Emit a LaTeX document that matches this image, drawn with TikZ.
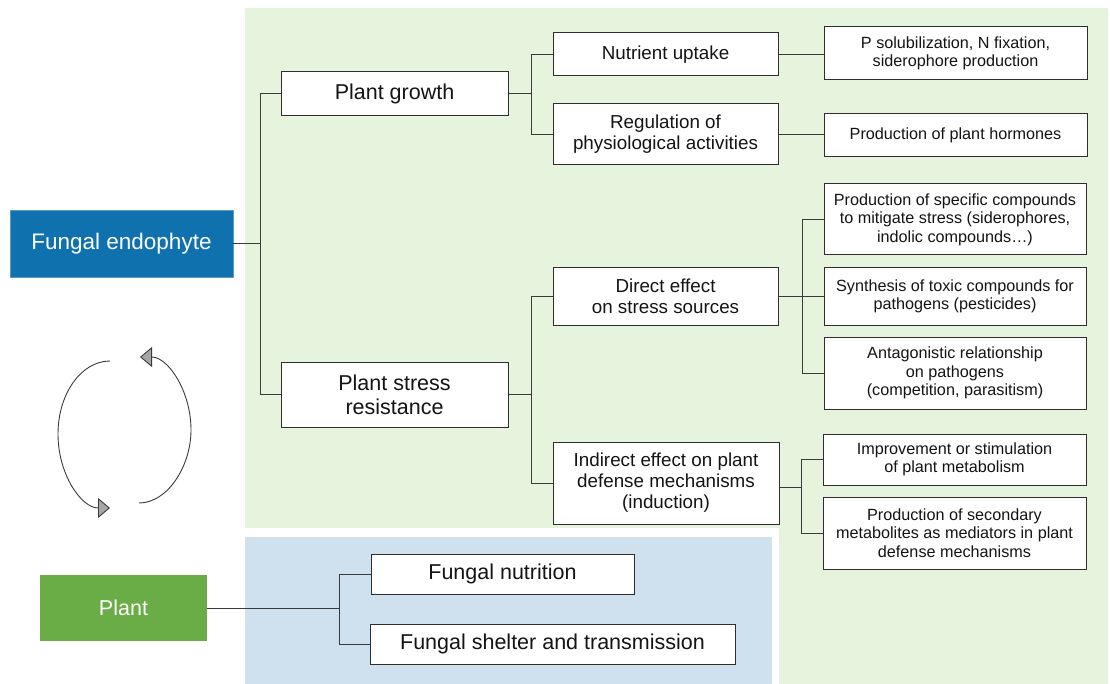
\documentclass[tikz,border=0pt]{standalone}
\usepackage{fontspec}
\setmainfont{Liberation Sans}
\usetikzlibrary{arrows.meta}
\definecolor{greenbg}{HTML}{E7F4DD}
\definecolor{bluebg}{HTML}{CFE1EE}
\definecolor{fecol}{HTML}{0F71AE}
\definecolor{plcol}{HTML}{6AAD46}
\definecolor{boxline}{HTML}{2E2E2E}
\definecolor{connline}{HTML}{3A3A3A}
\definecolor{txt}{HTML}{141414}
\definecolor{arrowfill}{HTML}{A6A6A6}
\begin{document}
\begin{tikzpicture}[x=1pt,y=-1pt,
  box/.style={draw=boxline, line width=1pt, fill=white, inner sep=0pt, align=center, text=txt},
  lvA/.style={box, font=\fontsize{21.5}{24}\selectfont},
  lvB/.style={box, font=\fontsize{18.8}{21}\selectfont},
  lvC/.style={box, font=\fontsize{16.2}{18.5}\selectfont},
  rootbox/.style={inner sep=0pt, align=center, text=white, font=\fontsize{22.5}{25}\selectfont},
  conn/.style={draw=connline, line width=1pt},
  loop/.style={draw=connline, line width=0.9pt, -{Triangle[length=12pt,width=20pt,fill=arrowfill]}}
]
\useasboundingbox (0,0) rectangle (1110,684);
% backgrounds
\fill[greenbg] (245,8) -- (1108,8) -- (1108,684) -- (779,684) -- (779,528) -- (245,528) -- cycle;
\fill[bluebg] (245,537) rectangle (771.5,684);

% root nodes
\node[rootbox, fill=fecol, draw=fecol!70!white, minimum width=223, minimum height=67] (fe) at (121.5,243.5) {Fungal endophyte};
\node[rootbox, fill=plcol, minimum width=167, minimum height=66, font=\fontsize{21.5}{24}\selectfont] (pl) at (123.5,608) {Plant};

% level 1
\node[lvA, minimum width=227, minimum height=44] (pg) at (394.5,94) {Plant growth};
\node[lvA, minimum width=227, minimum height=65] (psr) at (394.5,394.5) {Plant stress\\resistance};

% level 2
\node[lvB, minimum width=225, minimum height=43] (nu) at (665.5,54.5) {Nutrient uptake};
\node[lvB, minimum width=225, minimum height=61] (reg) at (665.5,134.5) {Regulation of\\physiological activities};
\node[lvB, minimum width=225, minimum height=57] (de) at (665.5,296.5) {Direct effect\\on stress sources};
\node[lvB, minimum width=226, minimum height=82] (ie) at (666,483) {Indirect effect on plant\\defense mechanisms\\(induction)};

% level 3
\node[lvC, minimum width=263, minimum height=53] (ps) at (955.5,53.5) {P solubilization, N fixation,\\siderophore production};
\node[lvC, minimum width=263, minimum height=43] (ph) at (955.5,135.5) {Production of plant hormones};
\node[lvC, minimum width=262, minimum height=71] (s1) at (955,219.5) {Production of specific compounds\\to mitigate stress (siderophores,\\indolic compounds\ldots)};
\node[lvC, minimum width=262, minimum height=57] (s2) at (955,296.5) {Synthesis of toxic compounds for\\pathogens (pesticides)};
\node[lvC, minimum width=262, minimum height=72] (s3) at (955,373) {Antagonistic relationship\\on pathogens\\(competition, parasitism)};
\node[lvC, minimum width=263, minimum height=51] (m1) at (954.5,459.5) {Improvement or stimulation\\of plant metabolism};
\node[lvC, minimum width=263, minimum height=72] (m2) at (954.5,533) {Production of secondary\\metabolites as mediators in plant\\defense mechanisms};

% plant side
\node[lvA, minimum width=263, minimum height=40] (fn) at (502.5,574) {Fungal nutrition};
\node[lvA, minimum width=365, minimum height=40] (fs) at (552.5,644) {Fungal shelter and transmission};

% connectors
\coordinate (b0) at (260,243.5);
\draw[conn] (fe.east) -- (b0);
\draw[conn] (b0) |- (pg.west);
\draw[conn] (b0) |- (psr.west);

\coordinate (b1) at (531,94);
\draw[conn] (pg.east) -- (b1);
\draw[conn] (b1) |- (nu.west);
\draw[conn] (b1) |- (reg.west);
\draw[conn] (nu.east) -- (nu.east -| ps.west);
\draw[conn] (reg.east) -- (reg.east -| ph.west);

\coordinate (b2) at (531,394.5);
\draw[conn] (psr.east) -- (b2);
\draw[conn] (b2) |- (de.west);
\draw[conn] (b2) |- (ie.west);

\coordinate (b3) at (802,296.5);
\draw[conn] (de.east) -- (b3);
\draw[conn] (b3) |- (s1.west);
\draw[conn] (b3) -- (s2.west);
\draw[conn] (b3) |- (s3.west);

\coordinate (b4) at (801,487);
\draw[conn] (ie.east |- b4) -- (b4);
\draw[conn] (b4) |- (m1.west);
\draw[conn] (b4) |- (m2.west);

\coordinate (b5) at (339.5,608);
\draw[conn] (pl.east) -- (b5);
\draw[conn] (b5) |- (fn.west);
\draw[conn] (b5) |- (fs.west);

% cycle arrows
\draw[loop] (110,361) .. controls (81.3,361) and (58,393.7) .. (58,434)
            .. controls (58,474.3) and (81.3,508) .. (110,508);
\draw[loop] (139,503) .. controls (167.7,503) and (191,466) .. (191,430)
            .. controls (191,391) and (168,357) .. (140,357);
\end{tikzpicture}
\end{document}
